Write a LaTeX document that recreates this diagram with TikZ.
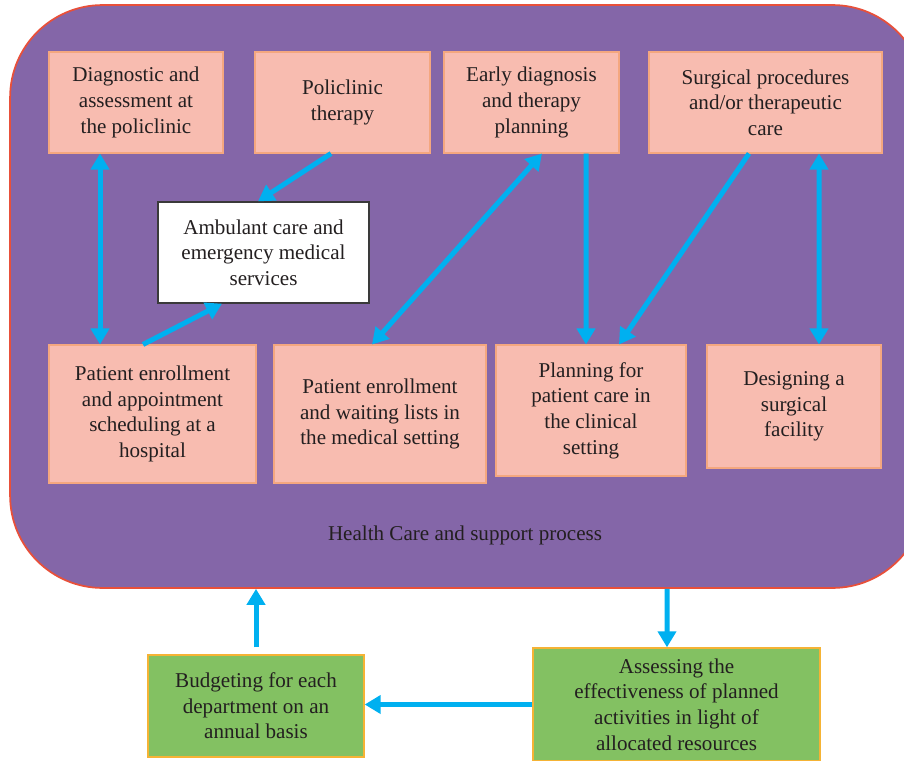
\documentclass[tikz,border=0pt]{standalone}
\usepackage{fontspec}
\setmainfont{Liberation Serif}
\usepackage{xcolor}
\definecolor{ink}{HTML}{231F20}
\definecolor{plum}{HTML}{8466A8}
\definecolor{framered}{HTML}{E8503A}
\definecolor{salmon}{HTML}{F8BCB0}
\definecolor{salmonedge}{HTML}{F4A77F}
\definecolor{leaf}{HTML}{83C162}
\definecolor{leafedge}{HTML}{F5B335}
\definecolor{hubedge}{HTML}{3A3A3A}
\definecolor{flowblue}{HTML}{00B0F0}
\usepackage{tikz}
\usetikzlibrary{calc,arrows.meta}

\begin{document}
\begin{tikzpicture}[
  x=0.02cm, y=-0.02cm,
  font=\fontsize{12}{14.6}\selectfont,
  frame/.style={draw=framered, line width=1pt, fill=plum, rounded corners=1.85cm,
                minimum width=18.3cm, minimum height=11.66cm, inner sep=0pt},
  stage/.style={draw=salmonedge, line width=0.6pt, fill=salmon, text=ink, align=center,
                inner sep=2pt, minimum width=3.5cm, minimum height=2.02cm},
  hub/.style={draw=hubedge, line width=0.8pt, fill=white, text=ink, align=center,
              inner sep=2pt, minimum width=4.22cm, minimum height=2.02cm},
  leafbox/.style={draw=leafedge, line width=0.8pt, fill=leaf, text=ink, align=center,
                  inner sep=2pt},
  flow/.style={-{Triangle[length=0.32cm,width=0.36cm]}, flowblue, line width=0.1cm},
  dflow/.style={{Triangle[length=0.32cm,width=0.36cm]}-{Triangle[length=0.32cm,width=0.36cm]},
                flowblue, line width=0.1cm}
]
  \useasboundingbox (0,0) rectangle (904,761);

  % outer process frame
  \node[frame] (care) at (467.5,296.5) {};
  \node[text=ink] (title) at (465,535) {Health Care and support process};

  % top row
  \node[stage, minimum width=3.48cm] (diag) at (136,102.5)
        {Diagnostic and\\assessment at\\the policlinic};
  \node[stage] (poli) at (342.5,102.5) {Policlinic\\therapy};
  \node[stage] (early) at (531.5,102.5) {Early diagnosis\\and therapy\\planning};
  \node[stage, minimum width=4.66cm] (surg) at (765.5,102.5)
        {Surgical procedures\\and/or therapeutic\\care};

  \node[hub] (amb) at (263.5,252.5) {Ambulant care and\\emergency medical\\services};

  % bottom row
  \node[stage, minimum width=4.14cm, minimum height=2.76cm] (enrol) at (152.5,414)
        {Patient enrollment\\and appointment\\scheduling at a\\hospital};
  \node[stage, minimum width=4.24cm, minimum height=2.76cm] (wait) at (380,414)
        {Patient enrollment\\and waiting lists in\\the medical setting};
  \node[stage, minimum width=3.8cm, minimum height=2.62cm] (plan) at (591,410.5)
        {Planning for\\patient care in\\the clinical\\setting};
  \node[stage, minimum width=3.48cm, minimum height=2.46cm] (design) at (794,406.5)
        {Designing a\\surgical\\facility};

  % budget loop
  \node[leafbox, minimum width=4.32cm, minimum height=2.04cm] (budget) at (256,706)
        {Budgeting for each\\department on an\\annual basis};
  \node[leafbox, minimum width=5.74cm, minimum height=2.26cm] (assess) at (676.5,704.5)
        {Assessing the\\effectiveness of planned\\activities in light of\\allocated resources};

  \draw[dflow] ($(diag.south)+(-36,0)$) -- ($(enrol.north)+(-52.5,0)$);
  \draw[flow] ($(poli.south)+(-11.5,0)$) -- ($(amb.north)+(-5.5,0)$);
  \draw[flow] ($(enrol.north)+(-9.5,0)$) -- ($(amb.south)+(-41.5,0)$);
  \draw[dflow] ($(early.south)+(10.5,0)$) -- ($(wait.north)+(-8,0)$);
  \draw[flow] ($(early.south)+(54.5,0)$) -- ($(plan.north)+(-5,0)$);
  \draw[flow] ($(surg.south)+(-16.5,0)$) -- ($(plan.north)+(28,0)$);
  \draw[dflow] ($(surg.south)+(53.5,0)$) -- ($(design.north)+(25,0)$);
  \draw[flow] ($(care.south)+(199.5,0)$) -- ($(assess.north)+(-9.5,0)$);
  \draw[flow] ($(budget.north)+(0,-7)$) -- ($(care.south)+(-211.5,0)$);
  \draw[flow] (assess.west) -- (assess.west -| budget.east);
\end{tikzpicture}
\end{document}
